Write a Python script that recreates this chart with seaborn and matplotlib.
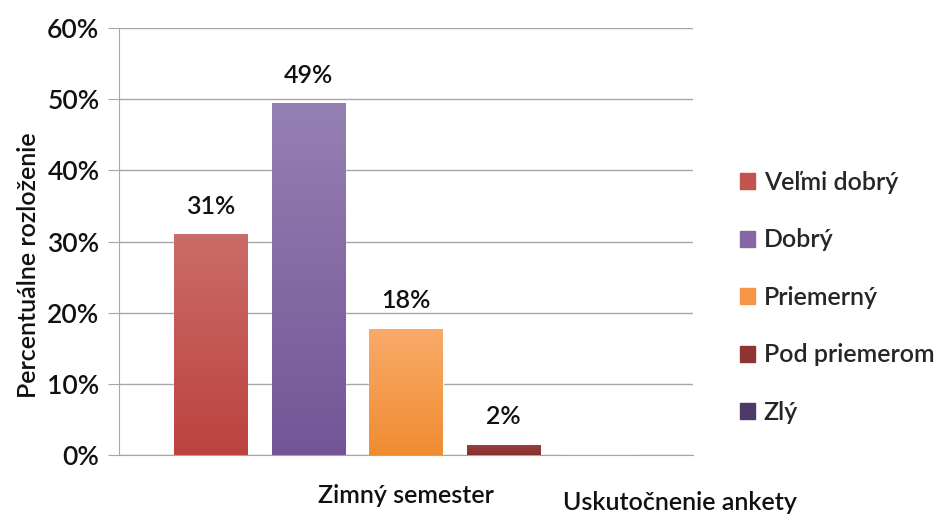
import matplotlib
matplotlib.use("Agg")
import matplotlib.pyplot as plt
import matplotlib.colors as mcolors
import matplotlib.patches as mpatches
import numpy as np
import pandas as pd
import seaborn as sns

# chart data
semester = ["Zimný semester"]
ratings = ["Veľmi dobrý", "Dobrý", "Priemerný", "Pod priemerom", "Zlý"]
shares = [0.31, 0.494, 0.177, 0.014, 0.0]
share_labels = ["31%", "49%", "18%", "2%", ""]
y_ticks = [0, 0.1, 0.2, 0.3, 0.4, 0.5, 0.6]
y_tick_labels = ["0%", "10%", "20%", "30%", "40%", "50%", "60%"]

# bar colours (gradient top -> bottom) and legend colours
colors_top = ["#CA6C69", "#9580B2", "#F9AA6A", "#99403E", "#5A4778"]
colors_bottom = ["#BD423F", "#735597", "#F08C30", "#872F2D", "#45345F"]
legend_colors = ["#C4524F", "#8467A5", "#F79646", "#8E3533", "#4B3969"]

df = pd.DataFrame({
    "semester": semester * len(ratings),
    "rating": ratings,
    "share": shares,
})

sns.set_style("white")
plt.rcParams["font.family"] = ["Lato", "DejaVu Sans"]
plt.rcParams["font.weight"] = "semibold"
plt.rcParams["axes.labelweight"] = "semibold"

fig = plt.figure(figsize=(9.44, 5.15), dpi=100)
ax = fig.add_axes([0.126, 0.1165, 0.608, 0.829])

sns.barplot(data=df, x="semester", y="share", hue="rating", hue_order=ratings,
            palette=colors_bottom, width=0.85, gap=0.25, ax=ax, legend=False,
            zorder=3)

# gradient fill on each bar
for bar, c0, c1 in zip(ax.patches, colors_top, colors_bottom):
    h = bar.get_height()
    if h <= 0:
        continue
    x0, y0, w = bar.get_x(), bar.get_y(), bar.get_width()
    cmap = mcolors.LinearSegmentedColormap.from_list("g", [c0, c1])
    grad = np.linspace(0, 1, 256)[:, None]
    im = ax.imshow(grad, cmap=cmap, aspect="auto", extent=[x0, x0 + w, y0, y0 + h],
                   zorder=4)
    im.set_clip_path(bar)

ax.set_xlim(-0.5, 0.5)
ax.set_ylim(0, 0.6)

# value labels
for cont, lab in zip(ax.containers, share_labels):
    ax.bar_label(cont, labels=[lab], padding=12, fontsize=18, color="#111111")

ax.set_yticks(y_ticks)
ax.set_yticklabels(y_tick_labels)
ax.yaxis.grid(True, color="#A6A6A6", lw=1, zorder=0)
ax.set_axisbelow(True)
for side in ["top", "right"]:
    ax.spines[side].set_visible(False)
for side in ["left", "bottom"]:
    ax.spines[side].set_color("#A6A6A6")
ax.tick_params(axis="y", left=True, length=8, color="#A6A6A6", labelsize=19,
               labelcolor="#111111", pad=6)
ax.tick_params(axis="x", length=0, labelsize=18, labelcolor="#111111", pad=21)

ax.set_ylabel("Percentuálne rozloženie", fontsize=18, color="#111111")
ax.yaxis.set_label_coords(-0.138, 0.445)
ax.set_xlabel("Uskutočnenie ankety", fontsize=18, color="#111111")
ax.xaxis.set_label_coords(0.977, -0.085)

handles = [mpatches.Patch(color=c) for c in legend_colors]
fig.legend(handles, ratings, loc="upper left", bbox_to_anchor=(0.784, 0.668),
           frameon=False, fontsize=18, handlelength=0.6, handleheight=0.6,
           handletextpad=0.35, labelspacing=1.38, borderpad=0, borderaxespad=0)

fig.savefig("out.png", dpi=100)
